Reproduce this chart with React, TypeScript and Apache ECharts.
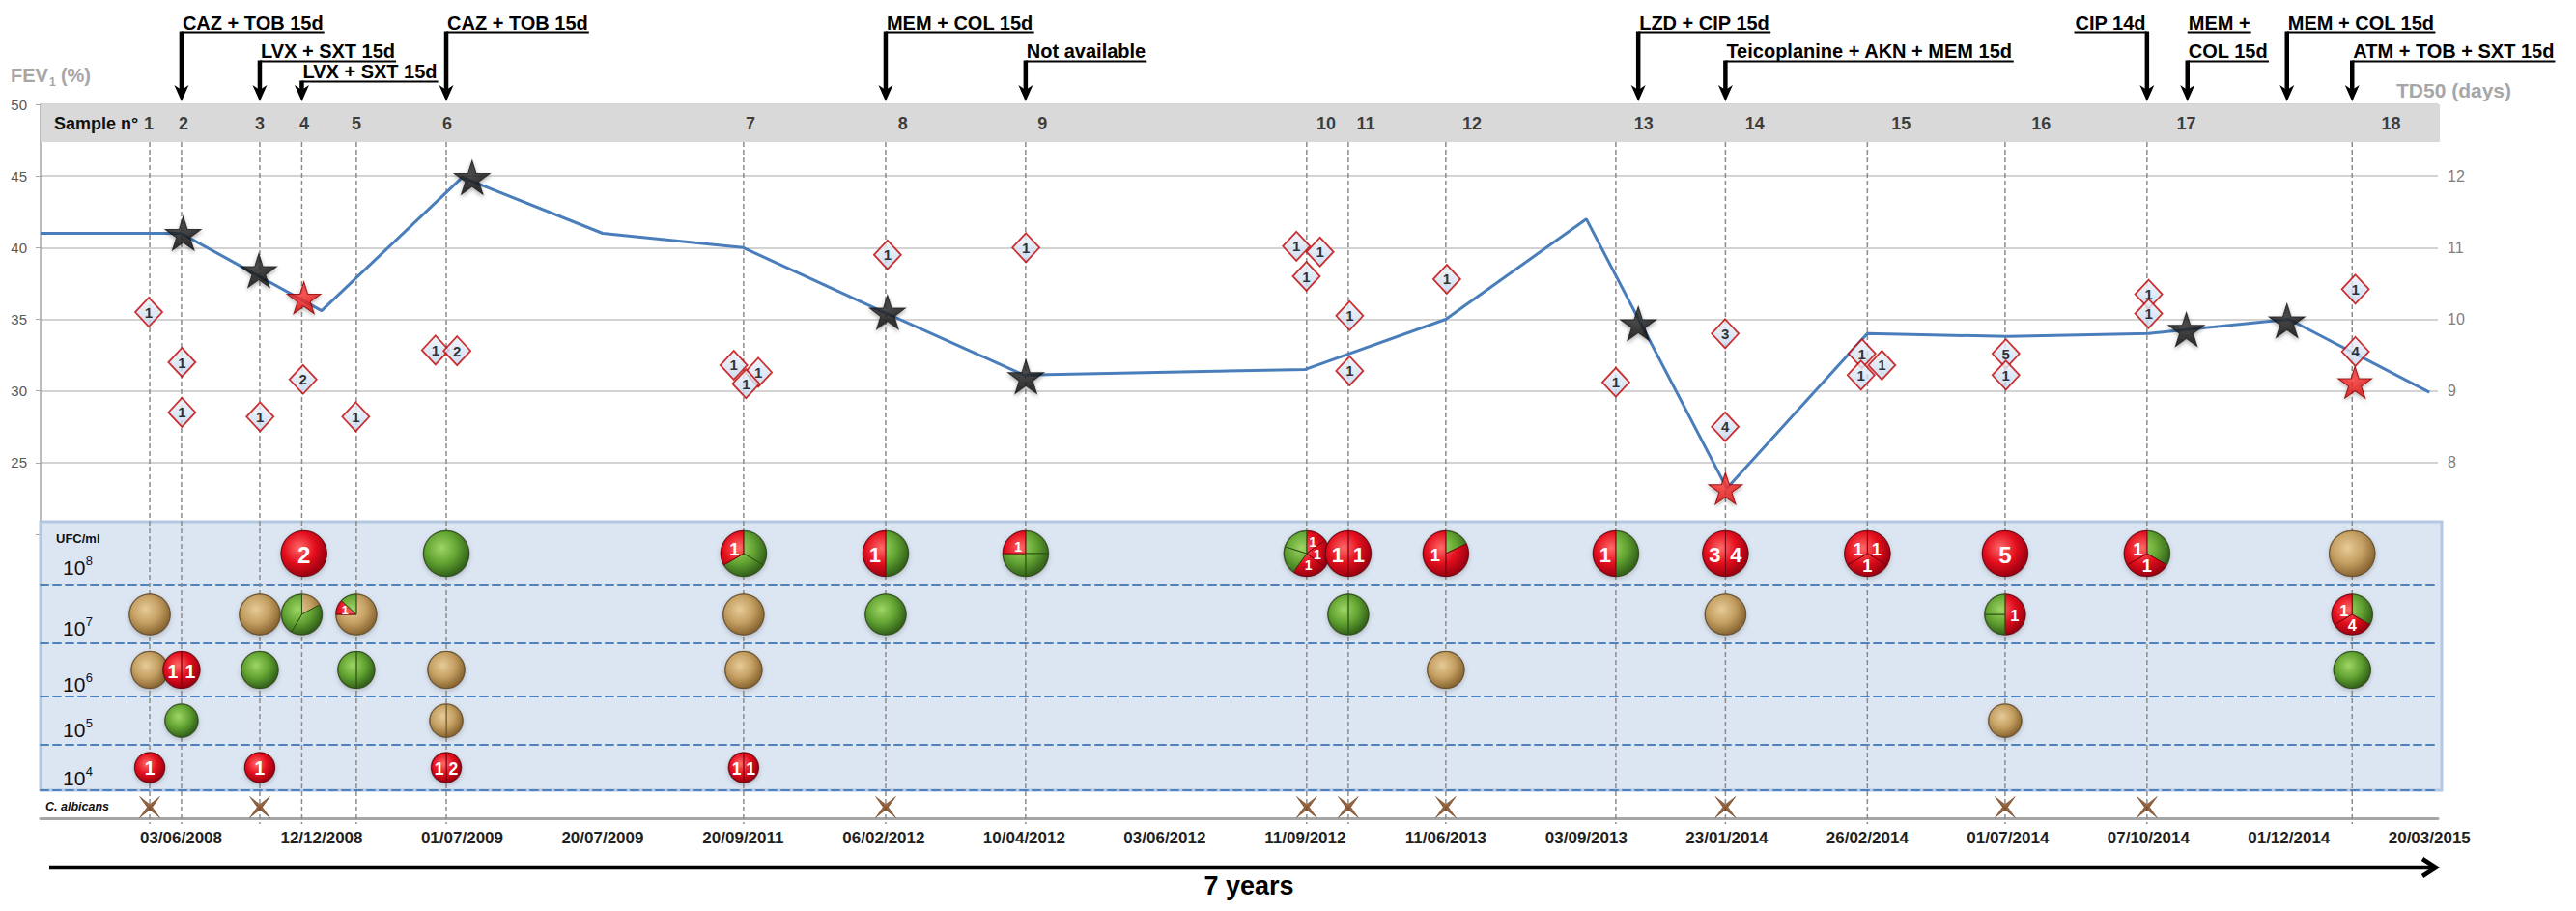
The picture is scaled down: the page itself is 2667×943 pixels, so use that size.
import React, { useEffect, useRef } from "react";
import * as echarts from "echarts";

const FONT = "'Liberation Sans', Arial, sans-serif";

// ---------- DATA ----------
const DATE_LABELS = ["03/06/2008","12/12/2008","01/07/2009","20/07/2009","20/09/2011","06/02/2012","10/04/2012","03/06/2012","11/09/2012","11/06/2013","03/09/2013","23/01/2014","26/02/2014","01/07/2014","07/10/2014","01/12/2014","20/03/2015"];

const FEV_X = [-1, 0, 1, 2, 3, 4, 5, 6, 8, 9, 10, 11, 12, 13, 14, 15, 16];
const FEV_Y = [41.0, 41.0, 35.6, 44.9, 41.0, 40.0, 35.5, 31.1, 31.5, 35.0, 42.0, 23.2, 34.0, 33.8, 34.0, 35.0, 29.9];

const SAMPLE_NUMBERS = ["1","2","3","4","5","6","7","8","9","10","11","12","13","14","15","16","17","18"];
const SAMPLE_LINE_X = [-0.223, 0.003, 0.56, 0.859, 1.247, 1.887, 4.003, 5.014, 6.01, 8.01, 8.306, 9.0, 10.21, 10.99, 12.0, 12.98, 13.99, 15.45];
const SAMPLE_LABEL_X = [-0.23, 0.017, 0.56, 0.876, 1.247, 1.893, 4.052, 5.137, 6.13, 8.148, 8.43, 9.186, 10.409, 11.199, 12.24, 13.237, 14.27, 15.727];

const BLACK_STAR_X = [0.015, 0.553, 2.071, 5.027, 6.012, 10.37, 14.27, 14.986];
const BLACK_STAR_Y = [41.0, 38.4, 44.9, 35.5, 31.0, 34.7, 34.3, 34.9];
const RED_STAR_X = [0.874, 10.99, 15.47];
const RED_STAR_Y = [36.5, 23.2, 30.6];

const DIAMOND_X = [-0.23, 0.006, 0.006, 0.562, 0.868, 1.243, 1.81, 1.964, 3.933, 4.108, 4.02, 5.027, 6.012, 7.937, 8.105, 8.008, 8.316, 8.316, 9.007, 10.21, 10.988, 10.988, 11.962, 12.103, 11.955, 12.986, 12.986, 14.002, 14.002, 15.473, 15.473];
const DIAMOND_Y = [35.5, 32.0, 28.5, 28.2, 30.8, 28.2, 32.85, 32.8, 31.8, 31.3, 30.5, 39.5, 40.0, 40.1, 39.7, 38.0, 35.25, 31.4, 37.8, 30.6, 34.0, 27.5, 32.6, 31.8, 31.1, 32.6, 31.1, 36.75, 35.4, 37.1, 32.75];
const DIAMOND_N = [1, 1, 1, 1, 2, 1, 1, 2, 1, 1, 1, 1, 1, 1, 1, 1, 1, 1, 1, 1, 3, 4, 1, 1, 1, 5, 1, 1, 1, 1, 4];

// bubble rows (UFC/ml levels). parts: [colour, fraction, label] clockwise from 12 o'clock
const ROW8_X = [0.874, 1.887, 4.003, 5.014, 6.01, 8.01, 8.306, 9.0, 10.21, 10.99, 12.0, 12.98, 13.99, 15.45];
const ROW8_PARTS = [
  [["r", 1, "2"]],
  [["g", 1, ""]],
  [["g", 1 / 3, ""], ["g", 1 / 3, ""], ["r", 1 / 3, "1"]],
  [["g", 0.5, ""], ["r", 0.5, "1"]],
  [["g", 0.25, ""], ["g", 0.25, ""], ["g", 0.25, ""], ["r", 0.25, "1"]],
  [["r", 0.15, "1"], ["r", 0.2, "1"], ["r", 0.25, "1"], ["g", 0.2, ""], ["g", 0.2, ""]],
  [["r", 0.5, "1"], ["r", 0.5, "1"]],
  [["g", 0.18, ""], ["r", 0.32, ""], ["r", 0.5, "1"]],
  [["g", 0.5, ""], ["r", 0.5, "1"]],
  [["r", 0.5, "4"], ["r", 0.5, "3"]],
  [["r", 1 / 3, "1"], ["r", 1 / 3, "1"], ["r", 1 / 3, "1"]],
  [["r", 1, "5"]],
  [["g", 1 / 3, ""], ["r", 1 / 3, "1"], ["r", 1 / 3, "1"]],
  [["t", 1, ""]],
];
const ROW7_X = [-0.223, 0.56, 0.859, 1.247, 4.003, 5.014, 8.306, 10.99, 12.98, 15.45];
const ROW7_PARTS = [
  [["t", 1, ""]],
  [["t", 1, ""]],
  [["t", 0.17, ""], ["g", 0.415, ""], ["g", 0.415, ""]],
  [["t", 0.75, ""], ["r", 0.12, "1"], ["g", 0.13, ""]],
  [["t", 1, ""]],
  [["g", 1, ""]],
  [["g", 0.5, ""], ["g", 0.5, ""]],
  [["t", 1, ""]],
  [["r", 0.5, "1"], ["g", 0.25, ""], ["g", 0.25, ""]],
  [["g", 1 / 3, ""], ["r", 1 / 3, "4"], ["r", 1 / 3, "1"]],
];
const ROW6_X = [-0.223, 0.003, 0.56, 1.247, 1.887, 4.003, 9.0, 15.45];
const ROW6_PARTS = [
  [["t", 1, ""]],
  [["r", 0.5, "1"], ["r", 0.5, "1"]],
  [["g", 1, ""]],
  [["g", 0.5, ""], ["g", 0.5, ""]],
  [["t", 1, ""]],
  [["t", 1, ""]],
  [["t", 1, ""]],
  [["g", 1, ""]],
];
const ROW5_X = [0.003, 1.887, 12.98];
const ROW5_PARTS = [
  [["g", 1, ""]],
  [["t", 0.5, ""], ["t", 0.5, ""]],
  [["t", 1, ""]],
];
const ROW4_X = [-0.223, 0.56, 1.887, 4.003];
const ROW4_PARTS = [
  [["r", 1, "1"]],
  [["r", 1, "1"]],
  [["r", 0.5, "2"], ["r", 0.5, "1"]],
  [["r", 0.5, "1"], ["r", 0.5, "1"]],
];
const CALBICANS_X = [-0.223, 0.56, 5.014, 8.01, 8.306, 9.0, 10.99, 12.98, 13.99];

const ANNOT_TEXT = ["CAZ + TOB 15d", "LVX + SXT 15d", "LVX + SXT 15d", "CAZ + TOB 15d", "MEM + COL 15d", "Not available", "LZD + CIP 15d", "Teicoplanine + AKN + MEM 15d", "CIP 14d", "MEM +", "COL 15d", "MEM + COL 15d", "ATM + TOB + SXT 15d"];
const ANNOT_X = [0.003, 0.56, 0.859, 1.887, 5.014, 6.01, 10.37, 10.99, 13.99, 14.278, 14.278, 14.986, 15.45];
const ANNOT_ROW = [0, 1, 2, 0, 0, 1, 0, 1, 0, 0, 1, 0, 1];
const ANNOT_RIGHT = [0, 0, 0, 0, 0, 0, 0, 0, 1, 0, 0, 0, 0];
const ANNOT_ARROW = [1, 1, 1, 1, 1, 1, 1, 1, 1, 0, 1, 1, 1];

const LEVEL_EXP = ["8", "7", "6", "5", "4"];

// ---------- LAYOUT / STYLE ----------
const GL = 42, GR = 143, XMIN = -1, XMAX = 16.06;
const BANDS = [
  { top: 540, h: 66, r: 23.5, label: 587 },
  { top: 606, h: 60, r: 21, label: 650 },
  { top: 666, h: 55, r: 19, label: 708.5 },
  { top: 721, h: 50, r: 17, label: 755 },
  { top: 771, h: 47, r: 15.5, label: 805.5 },
];
const ROW_TEXT_Y = [23.5, 53, 74];
const ROW_LINE_Y = [33.5, 63.5, 84.5];
const ARROW_TIP = 105;

const STAR = "path://M50,0 L61,35 L98,35 L68,57 L79,91 L50,70 L21,91 L32,57 L2,35 L39,35 Z";
const XMARK = "path://M0,0 L10,7.5 L20,0 L12.5,10 L20,20 L10,12.5 L0,20 L7.5,10 Z";

const GRAD = {
  r: ["#ff6a6a", "#e30f1d", "#9c0010"],
  g: ["#9fd665", "#62a332", "#33621a"],
  t: ["#e6cb98", "#c49f62", "#8a6733"],
};
const EDGE = { r: "#7e0010", g: "#2c5213", t: "#6f5126" };

let measureCtx = null;
function measure(text, font) {
  if (!measureCtx) measureCtx = document.createElement("canvas").getContext("2d");
  measureCtx.font = font;
  return measureCtx.measureText(text).width;
}

function txt(text, x, y, font, fill, align = "left") {
  return {
    type: "text",
    z: 20,
    x,
    y,
    style: { text, font, fill, textAlign: align, align, textVerticalAlign: "middle", verticalAlign: "middle" },
  };
}

function bubbleSeries(xs, parts, band) {
  const b = BANDS[band];
  const r = b.r;
  return {
    type: "custom",
    xAxisIndex: band + 1,
    yAxisIndex: band + 2,
    z: 10,
    clip: false,
    data: xs.map((x) => [x, 0.5]),
    renderItem: (params, api) => {
      const p = api.coord([api.value(0), api.value(1)]);
      const cx = p[0], cy = p[1];
      const segs = parts[params.dataIndex];
      const children = [];
      children.push({
        type: "circle",
        shape: { cx, cy, r: r + 0.8 },
        style: { fill: "rgba(40,30,20,0.55)", shadowBlur: 5, shadowOffsetY: 2, shadowColor: "rgba(0,0,0,0.35)" },
      });
      let cum = 0;
      segs.forEach((s) => {
        const c = s[0], f = s[1];
        const g = GRAD[c];
        const fill = new echarts.graphic.RadialGradient(cx - r * 0.2, cy - r * 0.25, r * 1.25, [
          { offset: 0, color: g[0] },
          { offset: 0.55, color: g[1] },
          { offset: 1, color: g[2] },
        ], true);
        if (f >= 0.999) {
          children.push({ type: "circle", shape: { cx, cy, r }, style: { fill, stroke: EDGE[c], lineWidth: 1 } });
        } else {
          const a0 = -Math.PI / 2 + cum * 2 * Math.PI;
          const a1 = -Math.PI / 2 + (cum + f) * 2 * Math.PI;
          children.push({
            type: "sector",
            shape: { cx, cy, r, r0: 0, startAngle: a0, endAngle: a1, clockwise: true },
            style: { fill, stroke: EDGE[c], lineWidth: 1 },
          });
        }
        cum += f;
      });
      cum = 0;
      const n = segs.length;
      segs.forEach((s) => {
        const f = s[1], lab = s[2];
        if (lab) {
          let tx = cx, ty = cy;
          let fs;
          if (f >= 0.999) {
            fs = 10 + r * 0.6;
          } else {
            const mid = -Math.PI / 2 + (cum + f / 2) * 2 * Math.PI;
            const d = r * (f < 0.2 ? 0.6 : 0.47);
            tx = cx + d * Math.cos(mid);
            ty = cy + d * Math.sin(mid);
            fs = n <= 2 ? 9 + r * 0.55 : n >= 4 ? r * 0.6 : r * 0.78;
            if (f < 0.14) fs = r * 0.6;
          }
          children.push({
            type: "text",
            style: {
              text: lab, x: tx, y: ty + 1, fill: "#ffffff",
              font: `bold ${fs.toFixed(1)}px ${FONT}`,
              textAlign: "center", align: "center", textVerticalAlign: "middle", verticalAlign: "middle",
            },
          });
        }
        cum += f;
      });
      return { type: "group", children };
    },
  };
}

function buildOption() {
  const grids = [
    { left: GL, right: GR, top: 108, height: 445 },
    ...BANDS.map((b) => ({ left: GL, right: GR, top: b.top, height: b.h })),
    { left: GL, right: GR, top: 818, height: 29 },
    { left: GL, right: GR, top: 147, height: 703 },
  ];
  const xAxes = grids.map((_, i) => {
    const base = { type: "value", gridIndex: i, min: XMIN, max: XMAX, interval: 1, splitLine: { show: false } };
    if (i === 0 || i === 7) return { ...base, show: false };
    if (i >= 1 && i <= 5)
      return {
        ...base,
        z: 6,
        axisLine: { show: true, onZero: false, lineStyle: { color: "#4f81bd", width: 2, type: [8, 5] } },
        axisTick: { show: false },
        axisLabel: { show: false },
      };
    return {
      ...base,
      z: 6,
      axisLine: { show: true, onZero: false, lineStyle: { color: "#a6a6a6", width: 3 } },
      axisTick: { show: false },
      axisLabel: {
        margin: 12,
        color: "#1f1f1f",
        fontWeight: "bold",
        fontSize: 17,
        fontFamily: FONT,
        formatter: (v) => (Number.isInteger(v) && v >= 0 && v < DATE_LABELS.length ? DATE_LABELS[v] : ""),
      },
    };
  });
  const yAxes = [
    {
      type: "value", gridIndex: 0, min: 20, max: 50, interval: 5, position: "left",
      axisLine: { show: true, onZero: false, lineStyle: { color: "#a6a6a6", width: 1.5 } },
      axisTick: { show: true, length: 5, lineStyle: { color: "#a6a6a6" } },
      axisLabel: { margin: 14, color: "#595959", fontSize: 15, fontFamily: FONT, formatter: (v) => (v === 20 ? "" : String(v)) },
      splitLine: { show: true, lineStyle: { color: "#c4c4c4", width: 1.5 } },
    },
    {
      type: "value", gridIndex: 0, min: 7, max: 13, interval: 1, position: "right",
      axisLine: { show: false }, axisTick: { show: false }, splitLine: { show: false },
      axisLabel: { margin: 10, color: "#7f7f7f", fontSize: 16, fontFamily: FONT, formatter: (v) => (v === 7 || v === 13 ? "" : String(v)) },
    },
    ...BANDS.map((_, i) => ({ type: "value", gridIndex: i + 1, min: 0, max: 1, show: false })),
    { type: "value", gridIndex: 6, min: 0, max: 1, show: false },
    { type: "value", gridIndex: 7, min: 0, max: 1, show: false },
  ];

  const annotFont = `bold 20px ${FONT}`;

  const series = [
    {
      type: "custom",
      name: "samples",
      xAxisIndex: 7,
      yAxisIndex: 8,
      z: 8,
      clip: false,
      data: SAMPLE_LINE_X.map((x) => [x, 0]),
      renderItem: (params, api) => {
        const x = api.value(0);
        const a = api.coord([x, 1]);
        const b = api.coord([x, 0]);
        return {
          type: "line",
          shape: { x1: a[0], y1: a[1], x2: b[0], y2: b[1] + 3 },
          style: { stroke: "#8c8c8c", lineWidth: 1.5, lineDash: [5, 3] },
        };
      },
    },
    {
      type: "line",
      name: "FEV1",
      xAxisIndex: 0,
      yAxisIndex: 0,
      z: 9,
      showSymbol: false,
      symbol: "none",
      lineStyle: { color: "#4a7ebb", width: 3 },
      data: FEV_X.map((x, i) => [x, FEV_Y[i]]),
    },
    {
      type: "scatter",
      name: "sampleLabels",
      xAxisIndex: 0,
      yAxisIndex: 0,
      z: 12,
      symbolSize: 1,
      itemStyle: { color: "rgba(0,0,0,0)" },
      label: { show: true, position: "inside", color: "#111", fontWeight: "bold", fontSize: 18, fontFamily: FONT, formatter: (p) => p.value[2] },
      data: SAMPLE_LABEL_X.map((x, i) => [x, 48.67, SAMPLE_NUMBERS[i]]),
    },
    {
      type: "scatter",
      name: "blackStars",
      xAxisIndex: 0,
      yAxisIndex: 0,
      z: 11,
      symbol: STAR,
      symbolSize: [37, 35],
      itemStyle: {
        color: new echarts.graphic.RadialGradient(0.45, 0.4, 0.7, [
          { offset: 0, color: "#303030" },
          { offset: 1, color: "#000000" },
        ]),
        borderColor: "#1a1a1a",
        borderWidth: 1,
        shadowBlur: 4,
        shadowOffsetY: 2,
        shadowColor: "rgba(0,0,0,0.4)",
      },
      data: BLACK_STAR_X.map((x, i) => [x, BLACK_STAR_Y[i]]),
    },
    {
      type: "scatter",
      name: "redStars",
      xAxisIndex: 0,
      yAxisIndex: 0,
      z: 11,
      symbol: STAR,
      symbolSize: [35, 33],
      itemStyle: {
        color: new echarts.graphic.RadialGradient(0.45, 0.4, 0.7, [
          { offset: 0, color: "#ff3a3a" },
          { offset: 1, color: "#cc0000" },
        ]),
        borderColor: "#8a0000",
        borderWidth: 1,
        shadowBlur: 4,
        shadowOffsetY: 2,
        shadowColor: "rgba(0,0,0,0.35)",
      },
      data: RED_STAR_X.map((x, i) => [x, RED_STAR_Y[i]]),
    },
    {
      type: "scatter",
      name: "diamonds",
      xAxisIndex: 0,
      yAxisIndex: 0,
      z: 12,
      symbol: "diamond",
      symbolSize: [28, 30],
      itemStyle: {
        color: new echarts.graphic.LinearGradient(0, 0, 0, 1, [
          { offset: 0, color: "#eef3fa" },
          { offset: 1, color: "#c3d6ee" },
        ]),
        borderColor: "#c00000",
        borderWidth: 1.8,
      },
      label: { show: true, position: "inside", color: "#000", fontWeight: "bold", fontSize: 15, fontFamily: FONT, formatter: (p) => String(p.value[2]) },
      data: DIAMOND_X.map((x, i) => [x, DIAMOND_Y[i], DIAMOND_N[i]]),
    },
    {
      type: "custom",
      name: "treatments",
      xAxisIndex: 0,
      yAxisIndex: 0,
      z: 12,
      clip: false,
      data: ANNOT_X.map((x) => [x, 50]),
      renderItem: (params, api) => {
        const i = params.dataIndex;
        const ax = api.coord([api.value(0), 50])[0];
        const text = ANNOT_TEXT[i];
        const w = measure(text, annotFont);
        const right = ANNOT_RIGHT[i] === 1;
        const x0 = right ? ax - w - 2 : ax;
        const ty = ROW_TEXT_Y[ANNOT_ROW[i]];
        const uy = ROW_LINE_Y[ANNOT_ROW[i]];
        const children = [
          {
            type: "text",
            style: { text, x: x0 + 1, y: ty, font: annotFont, fill: "#000", textAlign: "left", align: "left", textVerticalAlign: "middle", verticalAlign: "middle" },
          },
          { type: "line", shape: { x1: x0, y1: uy, x2: x0 + w + 2, y2: uy }, style: { stroke: "#000", lineWidth: 2 } },
        ];
        if (ANNOT_ARROW[i]) {
          children.push({ type: "line", shape: { x1: ax, y1: uy - 1, x2: ax, y2: ARROW_TIP - 10 }, style: { stroke: "#000", lineWidth: 4.5 } });
          children.push({
            type: "polygon",
            shape: { points: [[ax - 7.5, ARROW_TIP - 17], [ax, ARROW_TIP - 12], [ax + 7.5, ARROW_TIP - 17], [ax, ARROW_TIP]] },
            style: { fill: "#000" },
          });
        }
        return { type: "group", children };
      },
    },
    bubbleSeries(ROW8_X, ROW8_PARTS, 0),
    bubbleSeries(ROW7_X, ROW7_PARTS, 1),
    bubbleSeries(ROW6_X, ROW6_PARTS, 2),
    bubbleSeries(ROW5_X, ROW5_PARTS, 3),
    bubbleSeries(ROW4_X, ROW4_PARTS, 4),
    {
      type: "scatter",
      name: "C. albicans",
      xAxisIndex: 6,
      yAxisIndex: 7,
      z: 11,
      symbol: XMARK,
      symbolSize: [21, 22],
      itemStyle: { color: "#7a3b0c", borderColor: "#4a2205", borderWidth: 0.5 },
      data: CALBICANS_X.map((x) => [x, 0.4]),
    },
  ];

  // decorative graphics
  const fevFont = `bold 20px ${FONT}`;
  const fevW = measure("FEV", fevFont);
  const tenFont = `21px ${FONT}`;
  const tenW = measure("10", tenFont);
  const graphics = [
    { type: "rect", z: 5, shape: { x: GL, y: 108, width: 2484, height: 39 }, style: { fill: "#d9d9d9" } },
    { type: "rect", z: 5, shape: { x: GL, y: 540, width: 2486, height: 278 }, style: { fill: "#dce6f2", stroke: "#b4c8e2", lineWidth: 3 } },
    txt("Sample n°", 56, 128, `bold 18px ${FONT}`, "#111"),
    txt("FEV", 11, 78, fevFont, "#a6a6a6"),
    txt("1", 11 + fevW + 1, 85, `bold 12px ${FONT}`, "#a6a6a6"),
    txt("(%)", 11 + fevW + 13, 78, fevFont, "#a6a6a6"),
    txt("TD50 (days)", 2481, 93, `bold 21px ${FONT}`, "#a6a6a6"),
    txt("UFC/ml", 58, 557, `bold 13px ${FONT}`, "#111"),
    txt("C. albicans", 47, 835, `italic bold 12.5px ${FONT}`, "#111"),
    ...BANDS.flatMap((b, i) => [
      txt("10", 65, b.label, tenFont, "#111"),
      txt(LEVEL_EXP[i], 65 + tenW + 0.5, b.label - 7, `13px ${FONT}`, "#111"),
    ]),
    {
      type: "line", z: 20, shape: { x1: 51, y1: 898, x2: 2520, y2: 898 },
      style: { stroke: "#000", lineWidth: 4.5 },
    },
    {
      type: "polyline", z: 20, shape: { points: [[2508, 889], [2522, 898], [2508, 907]] },
      style: { stroke: "#000", lineWidth: 4.5, fill: null },
    },
    txt("7 years", 1293, 917, `bold 27px ${FONT}`, "#000", "center"),
  ];

  return {
    animation: false,
    backgroundColor: "#ffffff",
    grid: grids,
    xAxis: xAxes,
    yAxis: yAxes,
    series,
    graphic: { elements: graphics },
  };
}

export default function App() {
  const ref = useRef(null);
  useEffect(() => {
    const chart = echarts.init(ref.current, null, { renderer: "svg" });
    chart.setOption(buildOption());
    return () => chart.dispose();
  }, []);
  return <div ref={ref} style={{ position: "absolute", left: 0, top: 0, width: 2667, height: 943 }} />;
}
